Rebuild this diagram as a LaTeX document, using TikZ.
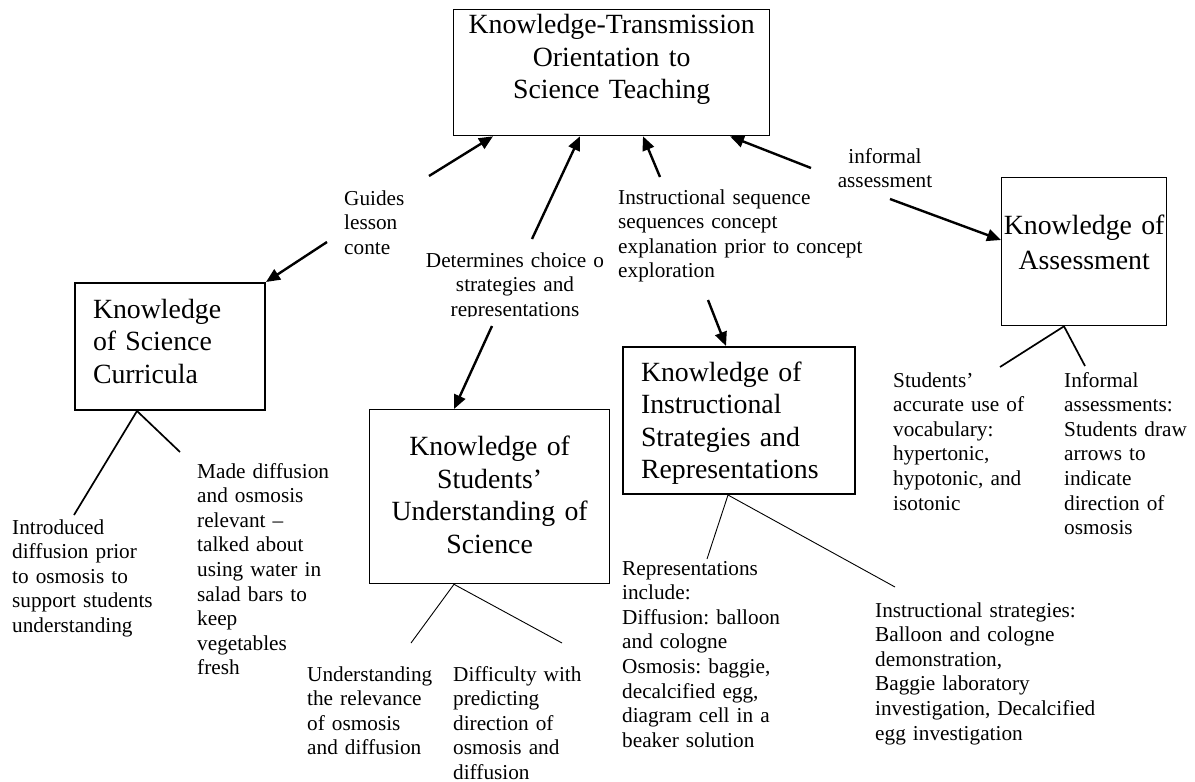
\documentclass[tikz,border=0pt]{standalone}
\usepackage{fontspec}
\setmainfont{Liberation Serif}
\usetikzlibrary{arrows.meta, calc}
\frenchspacing
\tikzset{
    KBox/.style={draw, inner ysep=0pt, font=\fontsize{27.8}{32.5}\selectfont},
    NoteText/.style={font=\fontsize{21.25}{24.6}\selectfont, align=left, anchor=base west, inner sep=0pt, text width=270pt},
    LinkArrow/.style={-{Triangle[length=14pt, width=12pt]}, line width=2.4pt},
    ThinBranch/.style={line width=0.9pt},
    ThickBranch/.style={line width=1.7pt}
}

\begin{document}
\begin{tikzpicture}[x=1pt, y=-1pt]
    \useasboundingbox (0,0) rectangle (1195,782);

    % knowledge boxes
    \node[KBox, anchor=north west, text width=316pt, inner xsep=0pt, align=center, text height=24pt, text depth=102pt, line width=1.3pt] (orient) at (453,9) {Knowledge-Transmission\\Orientation to\\Science Teaching};
    \node[KBox, anchor=north west, text width=154pt, inner xsep=18pt, align=left, text height=35pt, text depth=92pt, line width=2pt] (curric) at (74,282) {Knowledge\\of Science\\Curricula};
    \node[KBox, anchor=north west, text width=240pt, inner xsep=0pt, align=center, text height=46pt, text depth=128pt, line width=1.3pt] (studs) at (369,409) {Knowledge of\\Students'\\Understanding of\\Science};
    \node[KBox, anchor=north west, text width=196pt, inner xsep=18pt, align=left, text height=34pt, text depth=113pt, line width=2pt] (instr) at (622,346) {Knowledge of\\Instructional\\Strategies and\\Representations};
    \node[KBox, anchor=north west, text width=165pt, inner xsep=0pt, align=center, text height=57pt, text depth=91pt, line width=1.3pt] (assess) at (1001,177) {Knowledge of\\[2pt]Assessment};

    % link labels
    \node[NoteText] (guides) at (344,205) {Guides\\lesson\\conte};
    \begin{scope}
        \clip (400,240) rectangle (640,316.5);
        \node[NoteText, align=center, anchor=base] (choice) at (515,267) {Determines choice o\\strategies and\\representations};
    \end{scope}
    \node[NoteText] (sequence) at (618,204) {Instructional sequence\\sequences concept\\explanation prior to concept\\exploration};
    \node[NoteText, align=center, anchor=base] (informal) at (885,163) {informal\\assessment};

    \coordinate (guidesUp) at (429,176);
    \coordinate (guidesDown) at (327,242);
    \coordinate (choiceUp) at (532,239);
    \coordinate (choiceDown) at (492,326);
    \coordinate (sequenceUp) at (660,177);
    \coordinate (sequenceDown) at (708,300);
    \coordinate (informalUp) at (811,168);
    \coordinate (informalDown) at (890,199);

    \draw[LinkArrow] (guidesUp) -- ([xshift=40pt]orient.south west);
    \draw[LinkArrow] (guidesDown) -- (curric.north east);
    \draw[LinkArrow] (choiceUp) -- ([xshift=127pt]orient.south west);
    \draw[LinkArrow] (choiceDown) -- ([xshift=85pt]studs.north west);
    \draw[LinkArrow] (sequenceUp) -- ([xshift=190pt]orient.south west);
    \draw[LinkArrow] (sequenceDown) -- ([xshift=104pt]instr.north west);
    \draw[LinkArrow] (informalUp) -- ([xshift=277pt]orient.south west);
    \draw[LinkArrow] (informalDown) -- ([yshift=-63pt]assess.north west);

    % evidence notes
    \node[NoteText] (introduced) at (12,534) {Introduced\\diffusion prior\\to osmosis to\\support students\\understanding};
    \node[NoteText] (relevant) at (197,478) {Made diffusion\\and osmosis\\relevant --\\talked about\\using water in\\salad bars to\\keep\\vegetables\\fresh};
    \node[NoteText] (relevance) at (307,681) {Understanding\\the relevance\\of osmosis\\and diffusion};
    \node[NoteText] (difficulty) at (453,681) {Difficulty with\\predicting\\direction of\\osmosis and\\diffusion};
    \node[NoteText] (reps) at (622,575) {Representations\\include:\\Diffusion: balloon\\and cologne\\Osmosis: baggie,\\decalcified egg,\\diagram cell in a\\beaker solution};
    \node[NoteText] (strategies) at (875,617) {Instructional strategies:\\Balloon and cologne\\demonstration,\\Baggie laboratory\\investigation, Decalcified\\egg investigation};
    \node[NoteText] (vocab) at (893,387) {Students'\\accurate use of\\vocabulary:\\hypertonic,\\hypotonic, and\\isotonic};
    \node[NoteText] (arrowsnote) at (1064,387) {Informal\\assessments:\\Students draw\\arrows to\\indicate\\direction of\\osmosis};

    \coordinate (curricL) at (74,515);
    \coordinate (curricR) at (180,452);
    \coordinate (studsL) at (411,643);
    \coordinate (studsR) at (562,643);
    \coordinate (instrL) at (707,559);
    \coordinate (instrR) at (895,587);
    \coordinate (assessL) at (1000,367);
    \coordinate (assessR) at (1085,366);

    \draw[ThickBranch] ([xshift=63pt]curric.south west) -- (curricL);
    \draw[ThickBranch] ([xshift=63pt]curric.south west) -- (curricR);
    \draw[ThinBranch] ([xshift=85pt]studs.south west) -- (studsL);
    \draw[ThinBranch] ([xshift=85pt]studs.south west) -- (studsR);
    \draw[ThinBranch] ([xshift=106pt]instr.south west) -- (instrL);
    \draw[ThinBranch] ([xshift=106pt]instr.south west) -- (instrR);
    \draw[ThickBranch] ([xshift=63pt]assess.south west) -- (assessL);
    \draw[ThickBranch] ([xshift=63pt]assess.south west) -- (assessR);
\end{tikzpicture}
\end{document}
